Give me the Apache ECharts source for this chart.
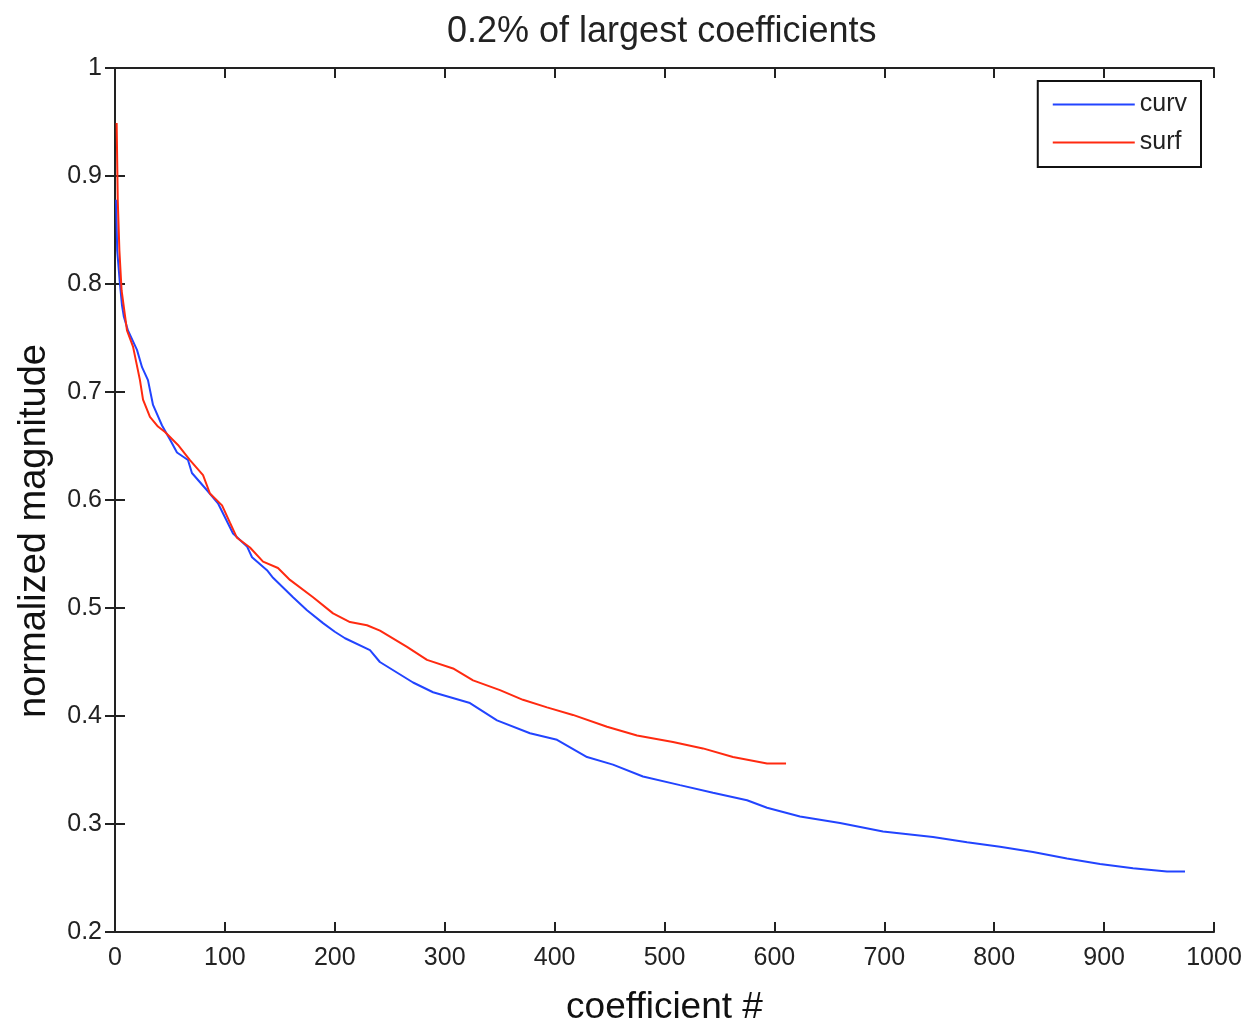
<!DOCTYPE html>
<html>
<head>
<meta charset="utf-8">
<script src="https://cdn.jsdelivr.net/npm/echarts@6/dist/echarts.min.js"></script>
<style>html,body{margin:0;padding:0;background:#fff;}#c{width:1246px;height:1025px;}</style>
</head>
<body>
<div id="c"></div>
<script>
var xTicks = [0,100,200,300,400,500,600,700,800,900,1000];
var yTicks = [0.2,0.3,0.4,0.5,0.6,0.7,0.8,0.9,1];

var curvX = [1,2,4.5,6.4,8,11.8,20,24.6,30,34.6,42.8,50,56.4,66.4,70,83.7,93.7,107.4,120.1,124.7,138.3,143.8,152.9,162,174.7,189.3,200,209.3,232,241,271.2,289.4,323,347.6,377.6,402.2,429.5,453.1,480.4,514.1,544.1,575.1,593.3,623.3,659.7,698.8,744.3,775.3,805.3,835.3,866.2,896.3,926.3,957.2,973.6];
var curvY = [0.878,0.831,0.80,0.78,0.77,0.757,0.739,0.723,0.711,0.688,0.669,0.656,0.644,0.637,0.625,0.609,0.597,0.569,0.557,0.547,0.535,0.528,0.519,0.510,0.498,0.486,0.478,0.472,0.461,0.450,0.431,0.422,0.412,0.396,0.384,0.378,0.362,0.355,0.344,0.336,0.329,0.322,0.315,0.307,0.301,0.293,0.288,0.283,0.279,0.274,0.268,0.263,0.259,0.256,0.256];

var surfX = [1.5,2.5,4,6,10.9,16.4,22.7,25.5,31.8,39.1,45.5,57.3,68.2,80.1,86.4,97.4,104.6,111,122.8,134.7,148.3,159.2,180.2,198.4,213.8,229.3,241.1,265.7,283.9,307.6,325.8,350.3,371.2,393.1,416.7,447.7,475,507.7,535,562.3,593.3,610.6];
var surfY = [0.949,0.878,0.831,0.794,0.757,0.742,0.711,0.693,0.677,0.668,0.663,0.651,0.637,0.623,0.606,0.595,0.579,0.565,0.556,0.543,0.537,0.526,0.510,0.495,0.487,0.484,0.479,0.464,0.452,0.444,0.433,0.424,0.415,0.408,0.401,0.390,0.382,0.376,0.370,0.362,0.356,0.356];

function zip(a,b){var r=[];for(var i=0;i<a.length;i++)r.push([a[i],b[i]]);return r;}

var chart = echarts.init(document.getElementById('c'));
var FF = 'Liberation Sans, Arial, sans-serif';
var lblFont = {fontFamily:FF, fontSize:25, color:'#222'};
var axisLine = {show:true, lineStyle:{color:'#222', width:2}};
var tick = {show:true, inside:true, length:10, lineStyle:{color:'#222', width:2}};
chart.setOption({
  animation:false,
  backgroundColor:'#fff',
  title:{text:'0.2% of largest coefficients', left:442, top:9,
    textStyle:{fontFamily:FF, fontSize:36, fontWeight:'normal', color:'#222'}},
  grid:{left:115, right:32, top:68, bottom:93, containLabel:false, outerBoundsMode:'none'},
  legend:{right:45, top:81, orient:'vertical', backgroundColor:'#fff', borderColor:'#111', borderWidth:2,
    padding:[11,14,12,15], itemGap:13, itemWidth:82, itemHeight:2, icon:'rect',
    textStyle:{fontFamily:FF, fontSize:25, color:'#222'},
    data:['curv','surf']},
  xAxis:[
    {type:'value', min:0, max:1000, interval:100, position:'bottom',
     name:'coefficient #', nameLocation:'middle', nameGap:57,
     nameTextStyle:{fontFamily:FF, fontSize:37, color:'#111'},
     axisLine:axisLine, axisTick:tick, splitLine:{show:false},
     axisLabel:Object.assign({margin:14, formatter:function(v){return String(v);}}, lblFont)},
    {type:'value', min:0, max:1000, interval:100, position:'top',
     axisLine:axisLine, axisTick:tick, splitLine:{show:false}, axisLabel:{show:false}}
  ],
  yAxis:[
    {type:'value', min:0.2, max:1, interval:0.1, position:'left',
     name:'normalized magnitude', nameLocation:'middle', nameGap:61,
     nameTextStyle:{fontFamily:FF, fontSize:38, color:'#111', padding:[0,62,0,0]},
     axisLine:axisLine, axisTick:tick, splitLine:{show:false},
     axisLabel:Object.assign({margin:13, formatter:function(v){return Math.abs(v-1)<1e-9?'1':v.toFixed(1);}}, lblFont)},
    {type:'value', min:0.2, max:1, interval:0.1, position:'right',
     axisLine:axisLine, axisTick:tick, splitLine:{show:false}, axisLabel:{show:false}}
  ],
  series:[
    {name:'curv', type:'line', data:zip(curvX,curvY), showSymbol:false, symbol:'none',
     lineStyle:{color:'#2244ff', width:2}, itemStyle:{color:'#2244ff'}},
    {name:'surf', type:'line', data:zip(surfX,surfY), showSymbol:false, symbol:'none',
     lineStyle:{color:'#ff2a10', width:2}, itemStyle:{color:'#ff2a10'}}
  ]
});
</script>
</body>
</html>
